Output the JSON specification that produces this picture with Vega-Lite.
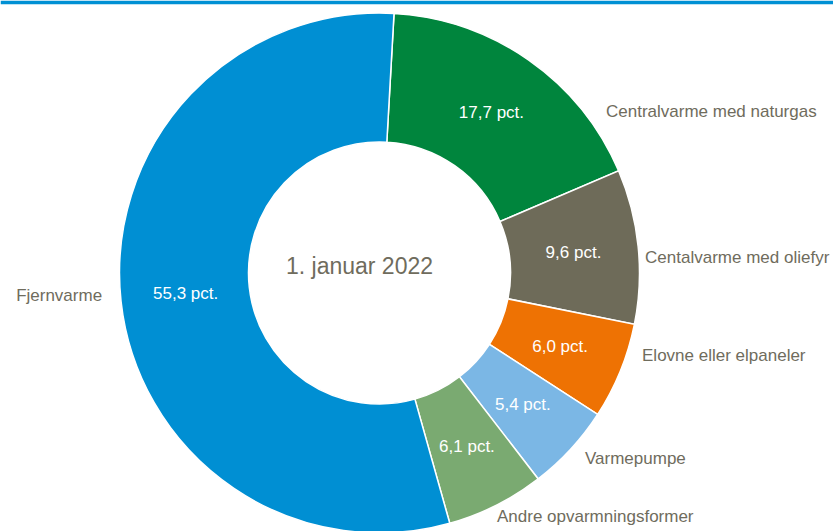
{
  "$schema": "https://vega.github.io/schema/vega-lite/v6.json",
  "autosize": {"type": "pad"},
  "padding": {"left": 0, "top": 0, "right": 0, "bottom": 0},
  "background": "white",
  "spacing": 5,
  "config": {"view": {"stroke": null}},
  "vconcat": [
    {
      "width": 833,
      "height": 1,
      "view": {"stroke": "#0090D4", "strokeWidth": 2.5},
      "data": {"values": []},
      "mark": {"type": "point", "opacity": 0, "size": 0}
    },
    {
      "width": 755,
      "height": 520,
      "view": {"stroke": null},
      "data": {
        "values": [
          {"category": "Centralvarme med naturgas", "value": 17.7, "label": "17,7 pct.", "order": 1},
          {"category": "Centalvarme med oliefyr", "value": 9.6, "label": "9,6 pct.", "order": 2},
          {"category": "Elovne eller elpaneler", "value": 6.0, "label": "6,0 pct.", "order": 3},
          {"category": "Varmepumpe", "value": 5.4, "label": "5,4 pct.", "order": 4},
          {"category": "Andre opvarmningsformer", "value": 6.1, "label": "6,1 pct.", "order": 5},
          {"category": "Fjernvarme", "value": 55.3, "label": "55,3 pct.", "order": 6}
        ]
      },
      "layer": [
        {
          "mark": {"type": "arc", "innerRadius": 131, "outerRadius": 260, "stroke": "white", "strokeWidth": 1.5},
          "encoding": {
            "theta": {"field": "value", "type": "quantitative", "stack": true, "scale": {"range": [0.0559, 6.3391]}},
            "order": {"field": "order", "type": "quantitative"},
            "color": {
              "field": "category",
              "type": "nominal",
              "legend": null,
              "scale": {
                "domain": ["Centralvarme med naturgas", "Centalvarme med oliefyr", "Elovne eller elpaneler", "Varmepumpe", "Andre opvarmningsformer", "Fjernvarme"],
                "range": ["#00853D", "#6E6B59", "#EE7203", "#7BB7E5", "#7AAA71", "#008FD3"]
              }
            }
          }
        },
        {
          "mark": {"type": "text", "radius": 195, "fontSize": 17, "font": "Liberation Sans, Arial, sans-serif", "color": "white", "align": "center", "baseline": "middle"},
          "encoding": {
            "theta": {"field": "value", "type": "quantitative", "stack": true},
            "order": {"field": "order", "type": "quantitative"},
            "text": {"field": "label"}
          }
        },
        {
          "mark": {"type": "text", "radius": 270, "fontSize": 17, "font": "Liberation Sans, Arial, sans-serif", "color": "#6F6C5D", "align": "left", "baseline": "middle", "dx": 71.5, "dy": 59.6},
          "encoding": {
            "theta": {"field": "value", "type": "quantitative", "stack": true},
            "order": {"field": "order", "type": "quantitative"},
            "text": {"condition": {"test": "datum.category === 'Centralvarme med naturgas'", "field": "category"}, "value": ""}
          }
        },
        {
          "mark": {"type": "text", "radius": 270, "fontSize": 17, "font": "Liberation Sans, Arial, sans-serif", "color": "#6F6C5D", "align": "left", "baseline": "middle", "dx": -3, "dy": 13},
          "encoding": {
            "theta": {"field": "value", "type": "quantitative", "stack": true},
            "order": {"field": "order", "type": "quantitative"},
            "text": {"condition": {"test": "datum.category === 'Centalvarme med oliefyr'", "field": "category"}, "value": ""}
          }
        },
        {
          "mark": {"type": "text", "radius": 270, "fontSize": 17, "font": "Liberation Sans, Arial, sans-serif", "color": "#6F6C5D", "align": "left", "baseline": "middle", "dx": 12.5, "dy": -19.4},
          "encoding": {
            "theta": {"field": "value", "type": "quantitative", "stack": true},
            "order": {"field": "order", "type": "quantitative"},
            "text": {"condition": {"test": "datum.category === 'Elovne eller elpaneler'", "field": "category"}, "value": ""}
          }
        },
        {
          "mark": {"type": "text", "radius": 270, "fontSize": 17, "font": "Liberation Sans, Arial, sans-serif", "color": "#6F6C5D", "align": "left", "baseline": "middle", "dx": 7, "dy": 2.5},
          "encoding": {
            "theta": {"field": "value", "type": "quantitative", "stack": true},
            "order": {"field": "order", "type": "quantitative"},
            "text": {"condition": {"test": "datum.category === 'Varmepumpe'", "field": "category"}, "value": ""}
          }
        },
        {
          "mark": {"type": "text", "radius": 270, "fontSize": 17, "font": "Liberation Sans, Arial, sans-serif", "color": "#6F6C5D", "align": "left", "baseline": "middle", "dx": -3.6, "dy": 2.7},
          "encoding": {
            "theta": {"field": "value", "type": "quantitative", "stack": true},
            "order": {"field": "order", "type": "quantitative"},
            "text": {"condition": {"test": "datum.category === 'Andre opvarmningsformer'", "field": "category"}, "value": ""}
          }
        },
        {
          "mark": {"type": "text", "radius": 270, "fontSize": 17, "font": "Liberation Sans, Arial, sans-serif", "color": "#6F6C5D", "align": "right", "baseline": "middle", "dx": -9, "dy": -6},
          "encoding": {
            "theta": {"field": "value", "type": "quantitative", "stack": true},
            "order": {"field": "order", "type": "quantitative"},
            "text": {"condition": {"test": "datum.category === 'Fjernvarme'", "field": "category"}, "value": ""}
          }
        },
        {
          "data": {"values": [{"t": "1. januar 2022"}]},
          "mark": {"type": "text", "fontSize": 23, "font": "Liberation Sans, Arial, sans-serif", "color": "#6F6C5D", "align": "center", "baseline": "middle", "dx": -20, "dy": -6},
          "encoding": {"text": {"field": "t"}}
        }
      ]
    }
  ]
}
